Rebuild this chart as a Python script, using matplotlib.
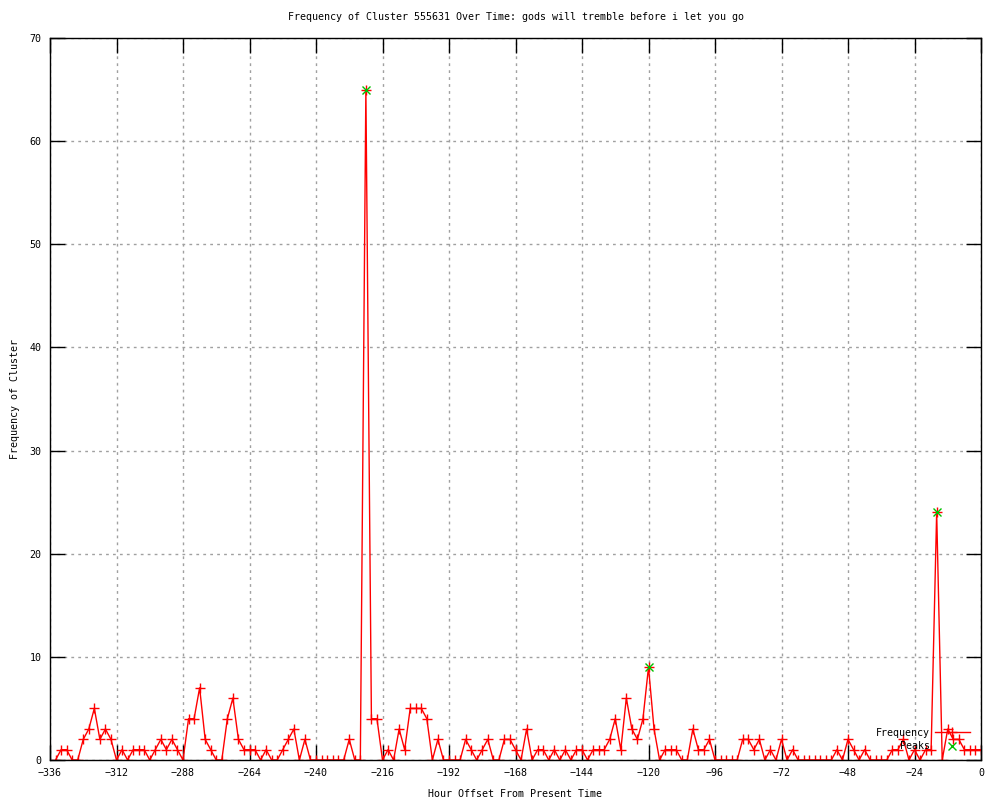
import matplotlib
matplotlib.use('Agg')
import matplotlib.pyplot as plt
import numpy as np

# hour offsets, one point every 2 hours
hours = np.arange(-334, 1, 2)

frequency = [
    0, 1, 1, 0, 0, 2, 3, 5, 2, 3, 2, 0, 1, 0, 1, 1, 1, 0, 1, 2,
    1, 2, 1, 0, 4, 4, 7, 2, 1, 0, 0, 4, 6, 2, 1, 1, 1, 0, 1, 0,
    0, 1, 2, 3, 0, 2, 0, 0, 0, 0, 0, 0, 0, 2, 0, 0, 65, 4, 4, 0,
    1, 0, 3, 1, 5, 5, 5, 4, 0, 2, 0, 0, 0, 0, 2, 1, 0, 1, 2, 0,
    0, 2, 2, 1, 0, 3, 0, 1, 1, 0, 1, 0, 1, 0, 1, 1, 0, 1, 1, 1,
    2, 4, 1, 6, 3, 2, 4, 9, 3, 0, 1, 1, 1, 0, 0, 3, 1, 1, 2, 0,
    0, 0, 0, 0, 2, 2, 1, 2, 0, 1, 0, 2, 0, 1, 0, 0, 0, 0, 0, 0,
    0, 1, 0, 2, 1, 0, 1, 0, 0, 0, 0, 1, 1, 2, 0, 1, 0, 1, 1, 24,
    0, 3, 2, 2, 1, 1, 1, 1,
]

peak_hours = [-222, -120, -16]
peak_values = [65, 9, 24]

title = 'Frequency of Cluster 555631 Over Time: gods will tremble before i let you go'

plt.rcParams['font.family'] = 'DejaVu Sans Mono'
plt.rcParams['font.size'] = 7.2

fig = plt.figure(figsize=(10, 8), dpi=100)
ax = fig.add_axes([0.05, 0.05, 0.931, 0.9025])

ax.plot(hours, frequency, color='red', linewidth=1, marker='+', markersize=6.5,
        markeredgewidth=1, label='Frequency')
ax.plot(peak_hours, peak_values, linestyle='none', marker='x', color='#00c000',
        markersize=6, markeredgewidth=1, label='Peaks', zorder=3)

ax.set_xlim(-336, 0)
ax.set_ylim(0, 70)
ax.set_xticks(np.arange(-336, 1, 24))
ax.set_yticks(np.arange(0, 71, 10))
ax.tick_params(direction='in', length=11, width=1, top=True, right=True, labelsize=7.2, pad=6)
ax.grid(True, color='#a0a0a0', linestyle=(0, (2, 3)), linewidth=1)
for s in ax.spines.values():
    s.set_linewidth(1)

ax.set_title(title, fontsize=7.2, pad=13)
ax.set_xlabel('Hour Offset From Present Time', fontsize=7.2, labelpad=8)
ax.set_ylabel('Frequency of Cluster', fontsize=7.2, labelpad=7)

ax.legend(loc='lower right', frameon=False, markerfirst=False, fontsize=7.2,
          handlelength=3.5, handletextpad=0.5, labelspacing=0.35, borderpad=0,
          borderaxespad=0, bbox_to_anchor=(0.988, 0.012))

plt.savefig('out.png', dpi=100)
